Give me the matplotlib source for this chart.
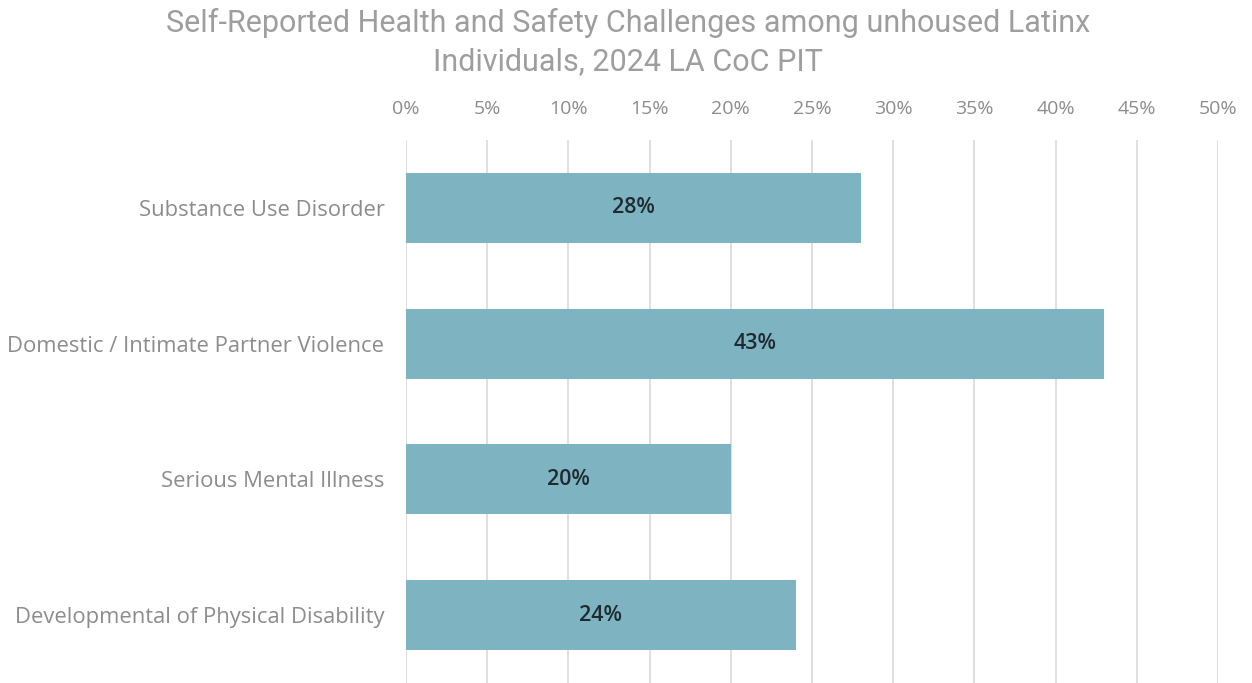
import matplotlib
matplotlib.use("Agg")
import matplotlib.pyplot as plt
from matplotlib.ticker import MultipleLocator, FuncFormatter

categories = ["Substance Use Disorder", "Domestic / Intimate Partner Violence",
              "Serious Mental Illness", "Developmental of Physical Disability"]
values = [28, 43, 20, 24]
title = "Self-Reported Health and Safety Challenges among unhoused Latinx\nIndividuals, 2024 LA CoC PIT"

plt.rcParams['font.family'] = ['Open Sans', 'DejaVu Sans']

fig = plt.figure(figsize=(12.52, 6.83), dpi=100)
ax = fig.add_axes([406/1252, 0, (1218-406)/1252, 1 - 140/683])

y = list(range(len(categories)))
ax.barh(y, values, height=0.515, color="#7eb3c2", zorder=2)
for yi, v in zip(y, values):
    ax.text(v/2, yi, f"{v}%", ha="center", va="center", fontsize=15.5,
            color="#1f2a30", fontweight="semibold", zorder=3)

ax.set_xlim(0, 50)
ax.set_ylim(len(categories) - 0.5, -0.5)
ax.set_yticks(y)
ax.set_yticklabels(categories, fontsize=15.8, color="#8c8c8c")
ax.xaxis.set_major_locator(MultipleLocator(5))
ax.xaxis.set_major_formatter(FuncFormatter(lambda x, p: f"{x:.0f}%"))
ax.xaxis.tick_top()
ax.tick_params(axis="x", length=0, pad=16, labelsize=14, labelcolor="#8c8c8c")
ax.tick_params(axis="y", length=0, pad=15.5)
ax.grid(axis="x", color="#d9d9d9", linewidth=1.2, zorder=0)
for s in ax.spines.values():
    s.set_visible(False)

fig.text(628/1252, 1 - 42/683, title, ha="center", va="center", fontsize=22,
         color="#9e9e9e", family=["Roboto", "DejaVu Sans"], linespacing=1.42)

fig.savefig("out.png", dpi=100)
